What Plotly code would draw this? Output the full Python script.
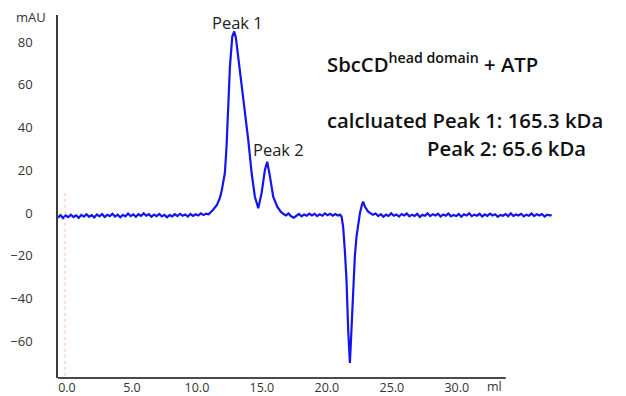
import plotly.graph_objects as go

# ---- data (ml, mAU) ----
base_a_x = [-0.69, -0.5, -0.3, -0.1, 0.1, 0.3, 0.5, 0.7, 0.9, 1.1, 1.3, 1.5, 1.7, 1.9, 2.1, 2.3, 2.5, 2.7, 2.9, 3.1,
            3.3, 3.5, 3.7, 3.9, 4.1, 4.3, 4.5, 4.7, 4.9, 5.1, 5.3, 5.5, 5.7, 5.9, 6.1, 6.3, 6.5, 6.7, 6.9, 7.1,
            7.3, 7.5, 7.7, 7.9, 8.1, 8.3, 8.5, 8.7, 8.9, 9.1, 9.3, 9.5, 9.7, 9.9, 10.1, 10.3, 10.5, 10.7, 10.9, 11.1]
base_a_y = [-2.2, -1.0, -2.4, -1.2, -2.0, -0.8, -1.9, -1.1, -2.3, -0.9, -1.7, -0.6, -1.8, -1.0, -2.1, -0.7, -1.6, -0.5, -1.9, -0.9,
            -1.5, -0.4, -1.7, -0.8, -2.0, -0.9, -1.6, -0.3, -1.5, -0.7, -1.8, -0.6, -1.4, -0.2, -1.3, -0.6, -1.8, -0.8, -1.5, -0.5,
            -1.6, -0.9, -2.0, -1.0, -1.6, -0.6, -1.5, -0.4, -1.3, -0.7, -1.7, -0.5, -1.4, -0.6, -1.2, -0.2, -1.0, -0.3, -0.6, 0.4]

peaks_x = [11.23, 11.54, 11.77, 11.92, 12.05, 12.15, 12.28, 12.41, 12.54, 12.72, 12.87, 13.0, 13.18, 13.44, 13.69,
           13.95, 14.21, 14.46, 14.72, 14.98, 15.23, 15.41, 15.62, 15.87, 16.18, 16.45]
peaks_y = [1.4, 3.7, 7.0, 10.8, 16.0, 18.7, 31.1, 48.2, 68.5, 82.6, 85.0, 82.0, 73.2, 59.2, 48.2,
           34.2, 18.7, 7.6, 2.2, 9.4, 20.1, 24.0, 17.0, 7.6, 2.9, 0.6]

base_b_x = [16.64, 16.85, 17.05, 17.25, 17.45, 17.65, 17.85, 18.05, 18.25, 18.45, 18.65, 18.85, 19.05, 19.25,
            19.45, 19.65, 19.85, 20.05, 20.25, 20.45, 20.65, 20.85, 21.0, 21.13]
base_b_y = [-0.4, -1.2, -0.3, -1.6, -2.2, -1.4, -0.5, -1.6, -0.7, -1.3, -0.3, -1.2, -0.4, -1.5,
            -0.6, -1.3, -0.2, -1.1, -0.4, -1.3, -0.5, -1.2, -0.8, -1.7]

dip_x = [21.25, 21.38, 21.51, 21.64, 21.72, 21.77, 21.82, 21.92, 22.02, 22.15, 22.28, 22.41, 22.54, 22.69, 22.79,
         22.92, 23.18, 23.54]
dip_y = [-6.4, -17.3, -31.4, -54.8, -64.2, -70.3, -64.2, -50.1, -31.4, -20.5, -11.1, -4.8, -0.2, 3.7, 5.3,
         3.0, 0.6, -0.9]

base_c_x = [23.75, 23.95, 24.15, 24.35, 24.55, 24.75, 24.95, 25.15, 25.35, 25.55, 25.75, 25.95, 26.15, 26.35,
            26.55, 26.75, 26.95, 27.15, 27.35, 27.55, 27.75, 27.95, 28.15, 28.35, 28.55, 28.75, 28.95, 29.15,
            29.35, 29.55, 29.75, 29.95, 30.15, 30.35, 30.55, 30.75, 30.95, 31.15, 31.35, 31.55, 31.75, 31.95,
            32.15, 32.35, 32.55, 32.75, 32.95, 33.15, 33.35, 33.55, 33.75, 33.95, 34.15, 34.35, 34.55, 34.75,
            34.95, 35.15, 35.35, 35.55, 35.75, 35.95, 36.15, 36.35, 36.55, 36.75, 36.95, 37.15, 37.3]
base_c_y = [-0.3, -1.5, -0.6, -1.8, -0.8, -1.4, -0.2, -1.3, -0.7, -1.7, -0.5, -1.2, -0.3, -1.6,
            -0.8, -1.4, -0.4, -1.9, -0.9, -1.3, -0.2, -1.5, -0.6, -1.2, -0.4, -1.7, -0.7, -1.3,
            -0.3, -1.6, -0.9, -1.4, -0.5, -1.8, -0.6, -1.2, -0.2, -1.5, -0.8, -1.3, -0.4, -1.7,
            -0.7, -1.4, -0.3, -1.2, -0.6, -1.8, -0.9, -1.3, -0.5, -1.5, -0.2, -1.4, -0.7, -1.2,
            -0.4, -1.6, -0.8, -1.3, -0.3, -1.5, -0.6, -1.2, -0.5, -1.7, -0.8, -1.1, -1.0]

y_ticks = [-60, -40, -20, 0, 20, 40, 60, 80]
x_ticks = [0, 5, 10, 15, 20, 25, 30]
x_tick_text = ["0.0", "5.0", "10.0", "15.0", "20.0", "25.0", "30.0"]

x_all = base_a_x + peaks_x + base_b_x + dip_x + base_c_x
y_all = base_a_y + peaks_y + base_b_y + dip_y + base_c_y

X_MIN, X_MAX = -0.69, 37.4
Y_MIN, Y_MAX = -77.3, 92.7
X_AXIS_END = 33.77
MARKER_X = -0.15

FONT = "Open Sans"
TICK_COLOR = "#333333"

fig = go.Figure()
fig.add_trace(go.Scatter(x=x_all, y=y_all, mode="lines",
                         line=dict(color="#1414f0", width=2.2), hoverinfo="skip"))

fig.update_layout(
    width=626, height=396,
    margin=dict(l=58, r=73, t=15, b=18, autoexpand=False),
    paper_bgcolor="white", plot_bgcolor="white",
    showlegend=False,
    font=dict(family=FONT, size=13, color=TICK_COLOR),
    xaxis=dict(range=[X_MIN, X_MAX], tickvals=x_ticks, ticktext=x_tick_text, automargin=False,
               showgrid=False, zeroline=False, showline=False, ticks="",
               ticklabelstandoff=0, tickfont=dict(size=12.5, color=TICK_COLOR)),
    yaxis=dict(range=[Y_MIN, Y_MAX], tickvals=y_ticks, showgrid=False, zeroline=False, automargin=False,
               showline=True, linecolor="#3a3a3a", linewidth=1.5, ticks="",
               ticklabelstandoff=21, tickfont=dict(size=13, color=TICK_COLOR)),
)

# x axis line (ends before the trace does)
fig.add_shape(type="line", xref="x", yref="paper", x0=X_MIN, x1=X_AXIS_END, y0=0, y1=0,
              line=dict(color="#4a4a4a", width=2))
# faint pink marker line
fig.add_shape(type="line", xref="x", yref="y", x0=MARKER_X, x1=MARKER_X, y0=9.4, y1=Y_MIN,
              line=dict(color="#f3b8ec", width=1, dash="dot"))

fig.add_annotation(text="mAU", xref="paper", yref="paper", x=0, y=1, xanchor="right", yanchor="middle",
                   xshift=-10, yshift=-2, showarrow=False, font=dict(size=13, color=TICK_COLOR))
fig.add_annotation(text="ml", xref="x", yref="paper", x=32.9, y=0, xanchor="center", yanchor="top",
                   yshift=2, showarrow=False, font=dict(size=12.5, color=TICK_COLOR))

PK = dict(size=16.5, color="#222222")
fig.add_annotation(text="Peak 1", x=13.15, y=89, showarrow=False, font=PK)
fig.add_annotation(text="Peak 2", x=16.3, y=29.5, showarrow=False, font=PK)

TXT = dict(size=20.3, color="#111111", weight=600)
fig.add_annotation(text="SbcCD<sup>head domain</sup> + ATP", x=20.08, y=70.3, xanchor="left",
                   xshift=-3, showarrow=False, font=TXT)
fig.add_annotation(text="calcluated Peak 1: 165.3 kDa", x=20.08, y=43.6, xanchor="left",
                   xshift=-3, showarrow=False, font=TXT)
fig.add_annotation(text="Peak 2: 65.6 kDa", x=27.77, y=30.4, xanchor="left",
                   xshift=-3, showarrow=False, font=TXT)

fig.write_html("out.html")
